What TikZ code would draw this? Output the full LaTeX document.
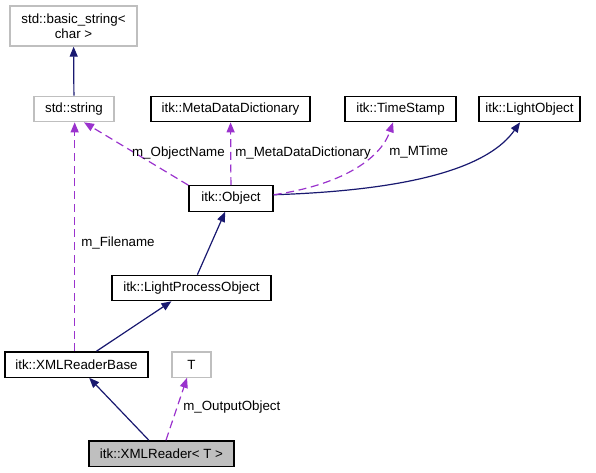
\documentclass[tikz,border=0pt]{standalone}
\usepackage{fontspec}
\setmainfont{Liberation Sans}
\usetikzlibrary{arrows.meta}
\definecolor{Navy}{HTML}{191970}
\definecolor{Orchid}{HTML}{9A32CD}
\definecolor{Grey}{HTML}{BFBFBF}
\tikzset{
    classnode/.style={rectangle, draw=black, line width=1pt, inner sep=0pt, minimum height=19pt, align=center, font=\fontsize{10}{11.25}\selectfont},
    extnode/.style={classnode, draw=Grey},
    mainnode/.style={classnode, fill=Grey},
    inherit/.style={-{Triangle[length=7.5pt, width=6pt]}, line width=0.9pt, color=Navy},
    member/.style={inherit, color=Orchid, dash pattern=on 6pt off 3.5pt},
    memberlabel/.style={inner sep=0pt, font=\fontsize{10}{12}\selectfont},
}
\begin{document}
\begin{tikzpicture}[x=0.75pt, y=0.75pt]
    \useasboundingbox (0,0) rectangle (596,472);

    % Classi esterne
    \node[extnode, minimum width=95.25pt, minimum height=30pt] (bstr) at (73.5, 446) {std::basic\_string<\\char >};
    \node[extnode, minimum width=60pt] (str) at (74, 363) {std::string};
    \node[extnode, minimum width=29.25pt] (T) at (191.5, 107.5) {T};

    % Classi itk
    \node[classnode, minimum width=119.25pt] (mdd) at (230.5, 363) {itk::MetaDataDictionary};
    \node[classnode, minimum width=83.25pt] (ts) at (400.5, 363) {itk::TimeStamp};
    \node[classnode, minimum width=75.75pt] (lo) at (529.5, 363) {itk::LightObject};
    \node[classnode, minimum width=63pt] (obj) at (231, 273.5) {itk::Object};
    \node[classnode, minimum width=119.25pt] (lpo) at (191.5, 184) {itk::LightProcessObject};
    \node[classnode, minimum width=107.25pt] (xrb) at (76.5, 107.5) {itk::XMLReaderBase};
    \node[mainnode, minimum width=108.75pt] (xr) at (161.5, 18.5) {itk::XMLReader< T >};

    % Ereditarieta
    \draw[inherit] (str) -- (bstr);
    \draw[inherit] (obj.5) .. controls (420, 282) and (490, 307) .. ([xshift=-7.1pt]lo.south);
    \draw[inherit] (lpo) -- (obj);
    \draw[inherit] (xrb) -- (lpo);
    \draw[inherit] (xr) -- (xrb);

    % Membri
    \draw[member] (obj.north west) -- ([xshift=7.5pt]str.south);
    \draw[member] (obj) -- (mdd);
    \draw[member] (obj.5) .. controls (340, 287) and (380, 312) .. ([xshift=-5.6pt]ts.south);
    \draw[member] ([xshift=0.5pt]xrb.north -| str.south) -- ([xshift=0.5pt]str.south);
    \draw[member] (xr) -- (T);

    % Etichette
    \node[memberlabel, anchor=east] (lblname) at (225, 319) {m\_ObjectName};
    \node[memberlabel, anchor=west] (lblmdd) at (235, 319) {m\_MetaDataDictionary};
    \node[memberlabel, anchor=west] (lbltime) at (389, 320) {m\_MTime};
    \node[memberlabel, anchor=west] (lblfile) at (81, 229) {m\_Filename};
    \node[memberlabel, anchor=west] (lblout) at (183, 65) {m\_OutputObject};
\end{tikzpicture}
\end{document}
